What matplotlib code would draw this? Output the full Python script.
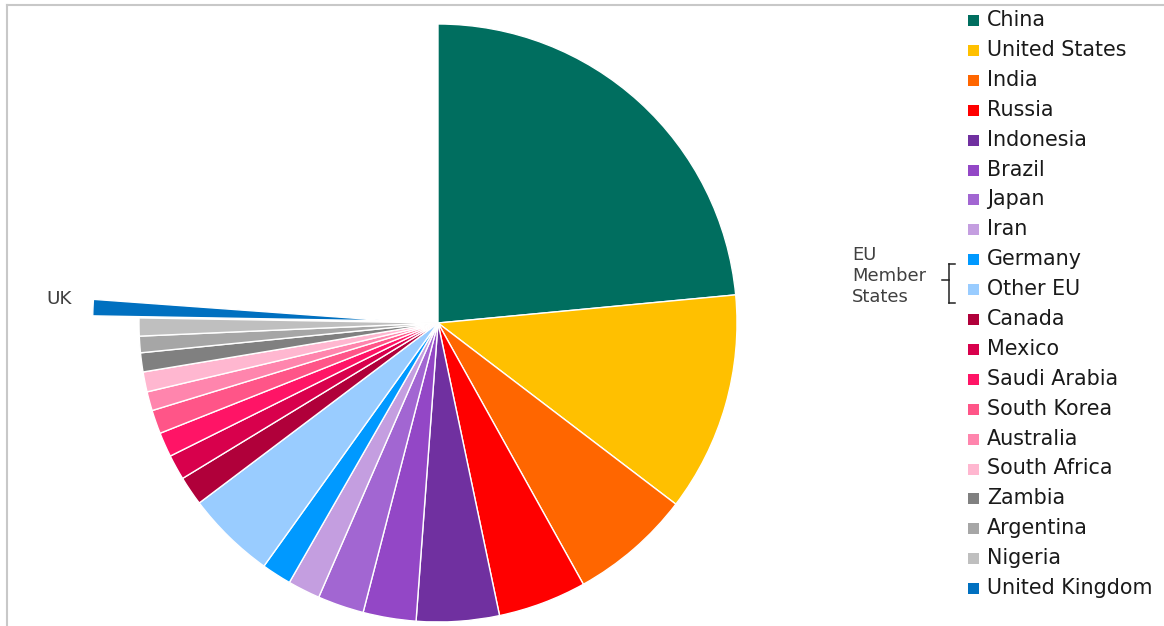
import matplotlib
matplotlib.use("Agg")

import matplotlib.pyplot as plt
from matplotlib.patches import Rectangle
from matplotlib.lines import Line2D


###--------------------------data--------------------------###
countries = [
    "China", "United States", "India", "Russia", "Indonesia", "Brazil",
    "Japan", "Iran", "Germany", "Other EU", "Canada", "Mexico",
    "Saudi Arabia", "South Korea", "Australia", "South Africa", "Zambia",
    "Argentina", "Nigeria", "United Kingdom",
]
share_pct = [
    23.5, 11.86, 6.56, 4.78, 4.47, 2.86,
    2.50, 1.75, 1.61, 4.83, 1.58, 1.36,
    1.33, 1.28, 1.03, 1.08, 1.03,
    0.89, 0.97, 0.88,
]
rest_of_world = 23.85   # not drawn, leaves the gap on the upper left

colors = [
    "#006E5F", "#FFC000", "#FF6600", "#FF0000", "#7030A0", "#9347C6",
    "#A266D2", "#C49EE0", "#0099FF", "#99CCFF", "#B0003A", "#D8004C",
    "#FF1466", "#FF5588", "#FF85AD", "#FFB7D0", "#808080",
    "#A6A6A6", "#BFBFBF", "#0070C0",
]

###------------------------figure--------------------------###
W, H = 1164, 626
fig = plt.figure(figsize=(W / 100, H / 100), dpi=100, facecolor="white")

def px(x, y):
    # pixel (from top left) -> figure fraction
    return x / W, 1 - y / H

cx, cy, r_px = 438, 323, 299
lim = 1.2
side = 2 * lim * r_px
ax = fig.add_axes([(cx - side / 2) / W, (H - cy - side / 2) / H, side / W, side / H])

values = share_pct + [rest_of_world]
explode = [0] * (len(share_pct) - 1) + [0.155, 0]
wedges, _ = ax.pie(
    values,
    colors=colors + ["none"],
    explode=explode,
    startangle=90,
    counterclock=False,
    radius=1,
    wedgeprops=dict(edgecolor="white", linewidth=1),
)
wedges[-1].set_edgecolor("none")
ax.set_xlim(-lim, lim)
ax.set_ylim(-lim, lim)
ax.set_aspect("equal")
ax.axis("off")

###------------------------legend--------------------------###
row0, step = 20, 29.9
for i, (name, col) in enumerate(zip(countries, colors)):
    y = row0 + i * step
    x0, y0 = px(968, y + 6)
    fig.patches.append(Rectangle((x0, y0), 11 / W, 11 / H, transform=fig.transFigure,
                                 facecolor=col, edgecolor="none"))
    fig.text(*px(987, y), name, fontsize=14.9, color="#1a1a1a", va="center", ha="left")

###---------------------EU bracket-------------------------###
gray = "#404040"
fig.text(*px(852, 276), "EU\nMember\nStates", fontsize=12.9, color=gray,
         va="center", ha="left", linespacing=1.2)
bx = 949
for seg in [((bx, 264), (bx, 303)), ((bx, 264), (955, 264)),
            ((bx, 303), (955, 303)), ((942, 280), (bx, 280))]:
    (x1, y1), (x2, y2) = seg
    p1, p2 = px(x1, y1), px(x2, y2)
    fig.add_artist(Line2D([p1[0], p2[0]], [p1[1], p2[1]], transform=fig.transFigure,
                          color="#222222", linewidth=1.1))

fig.text(*px(46, 299), "UK", fontsize=13.2, color=gray, va="center", ha="left")

###------------------------border--------------------------###
for (x1, y1), (x2, y2) in [((7, 5), (W, 5)), ((7, 5), (7, H))]:
    p1, p2 = px(x1, y1), px(x2, y2)
    fig.add_artist(Line2D([p1[0], p2[0]], [p1[1], p2[1]], transform=fig.transFigure,
                          color="#C8C8C8", linewidth=1.5))

plt.savefig("out.png", dpi=100, facecolor="white")
